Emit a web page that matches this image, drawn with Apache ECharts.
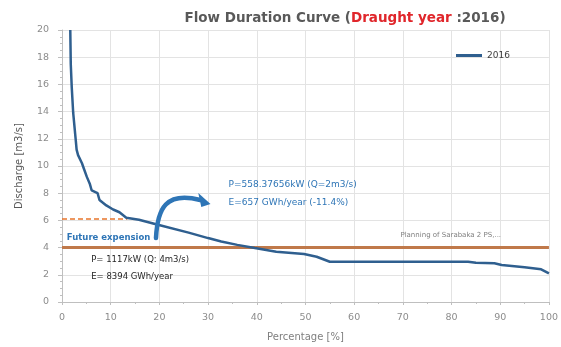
<!DOCTYPE html>
<html>
<head>
<meta charset="utf-8">
<script src="https://cdn.jsdelivr.net/npm/echarts@6/dist/echarts.min.js"></script>
<style>
html,body{margin:0;padding:0;background:#fff;}
#chart{width:561px;height:347px;}
</style>
</head>
<body>
<div id="chart"></div>
<script>
// Flow duration curve, 2016 (exceedance percentage vs discharge)
const percent = [1.7, 1.8, 2.0, 2.3, 2.8, 3.0, 3.3, 4.1, 4.5, 5.1, 5.7, 6.1, 7.3, 7.7, 9.1, 10.5, 11.8, 13.2, 15.8, 19.9, 26, 30, 32.7, 36, 39.6, 44, 49.7, 52.3, 55, 60, 70, 83.4, 85, 88.8, 90.3, 95, 98.4, 100];
const discharge = [20, 17.5, 15.8, 13.9, 12.0, 11.2, 10.8, 10.2, 9.8, 9.2, 8.7, 8.2, 8.0, 7.5, 7.1, 6.8, 6.6, 6.2, 6.05, 5.66, 5.1, 4.7, 4.45, 4.2, 3.97, 3.7, 3.53, 3.33, 2.96, 2.96, 2.96, 2.96, 2.88, 2.85, 2.72, 2.55, 2.4, 2.1];

// Design discharge (4 m3/s) and future expansion level
const designQ = 4;
const designRange = [0, 100];
const expansionQ = 6.1;
const expansionRange = [0, 13.4];

const xTicks = { min: 0, max: 100, interval: 10 };
const yTicks = { min: 0, max: 20, interval: 2 };

const chart = echarts.init(document.getElementById('chart'));
const grey = '#595959';
const font = 'DejaVu Sans, Verdana, sans-serif';

const option = {
  animation: false,
  textStyle: { fontFamily: font },
  title: {
    left: 340, textAlign: 'center', top: 6,
    text: '{g|Flow Duration Curve (}{r|Draught year }{g|:2016)}',
    textStyle: {
      rich: {
        g: { color: grey, fontSize: 13.5, fontWeight: 'bold', fontFamily: font },
        r: { color: '#e0262b', fontSize: 13.5, fontWeight: 'bold', fontFamily: font }
      }
    }
  },
  legend: {
    data: ['2016'], left: 451, top: 46, itemWidth: 26, itemHeight: 3, itemGap: 3,
    icon: 'rect',
    textStyle: { color: '#404040', fontSize: 9, fontFamily: font }
  },
  grid: { left: 62, right: 6, top: 30, bottom: 45 },
  xAxis: {
    type: 'value', min: xTicks.min, max: xTicks.max, interval: xTicks.interval,
    name: 'Percentage [%]', nameLocation: 'middle', nameGap: 30,
    nameTextStyle: { color: '#7f7f7f', fontSize: 10 },
    axisLine: { lineStyle: { color: '#bfbfbf' } },
    axisTick: { show: true, length: 3, lineStyle: { color: '#bfbfbf' } },
    minorTick: { show: true, splitNumber: 2, length: 2, lineStyle: { color: '#bfbfbf' } },
    axisLabel: { color: '#8c8c8c', fontSize: 9.5, margin: 11 },
    splitLine: { show: true, lineStyle: { color: '#e3e3e3' } }
  },
  yAxis: {
    type: 'value', min: yTicks.min, max: yTicks.max, interval: yTicks.interval,
    name: 'Discharge [m3/s]', nameLocation: 'middle', nameGap: 38,
    nameTextStyle: { color: '#595959', fontSize: 10 },
    axisLine: { show: true, lineStyle: { color: '#bfbfbf' } },
    axisTick: { show: true, length: 4, lineStyle: { color: '#bfbfbf' } },
    minorTick: { show: true, splitNumber: 4, length: 2, lineStyle: { color: '#bfbfbf' } },
    axisLabel: { color: '#8c8c8c', fontSize: 9.5, margin: 13 },
    splitLine: { show: true, lineStyle: { color: '#e3e3e3' } }
  },
  series: [
    {
      name: 'design', type: 'line', symbol: 'none', silent: true,
      data: designRange.map(x => [x, designQ]),
      lineStyle: { color: '#c0794a', width: 3 }, z: 2
    },
    {
      name: 'expansion', type: 'line', symbol: 'none', silent: true,
      data: expansionRange.map(x => [x, expansionQ]),
      lineStyle: { color: '#e8762d', width: 1.5, type: [5, 3] }, z: 2
    },
    {
      name: '2016', type: 'line', symbol: 'none',
      data: percent.map((p, i) => [p, discharge[i]]),
      itemStyle: { color: '#2f5f8f' },
      lineStyle: { color: '#2f5f8f', width: 2.5 }, z: 3
    }
  ]
};
chart.setOption(option);

// Annotations placed in data coordinates
const px = (x, y) => chart.convertToPixel({ gridIndex: 0 }, [x, y]);
const blue = '#2e75b6';
const a0 = px(19.3, 4.7), a1 = px(19.6, 6.9), a2 = px(23, 8.0), a3 = px(28.4, 7.5);
const h = px(30.5, 7.2);
const label = (x, y, text, fill, f) => {
  const p = px(x, y);
  return { type: 'text', x: p[0], y: p[1], style: { text, fill, font: f, verticalAlign: 'middle' } };
};
chart.setOption({
  graphic: [
    label(1, 4.75, 'Future expension', blue, 'bold 8.5px ' + font),
    label(6, 3.1, 'P= 1117kW (Q: 4m3/s)', '#262626', '8.5px ' + font),
    label(6, 1.85, 'E= 8394 GWh/year', '#262626', '8.5px ' + font),
    label(34.2, 8.6, 'P=558.37656kW (Q=2m3/s)', blue, '9px ' + font),
    label(34.2, 7.3, 'E=657 GWh/year (-11.4%)', blue, '9px ' + font),
    label(69.5, 4.9, 'Planning of Sarabaka 2 PS,...', '#7f7f7f', '7px ' + font),
    { type: 'bezierCurve', z: 10,
      shape: { x1: a0[0], y1: a0[1], cpx1: a1[0], cpy1: a1[1], cpx2: a2[0] - 8, cpy2: a2[1] - 2, x2: a3[0], y2: a3[1] },
      style: { stroke: blue, lineWidth: 4.5, fill: null, lineCap: 'round' } },
    { type: 'polygon', z: 10,
      shape: { points: [[a3[0] - 2, a3[1] - 7], [a3[0] + 1, a3[1] + 7], [h[0], h[1]]] },
      style: { fill: blue } }
  ]
});
</script>
</body>
</html>
